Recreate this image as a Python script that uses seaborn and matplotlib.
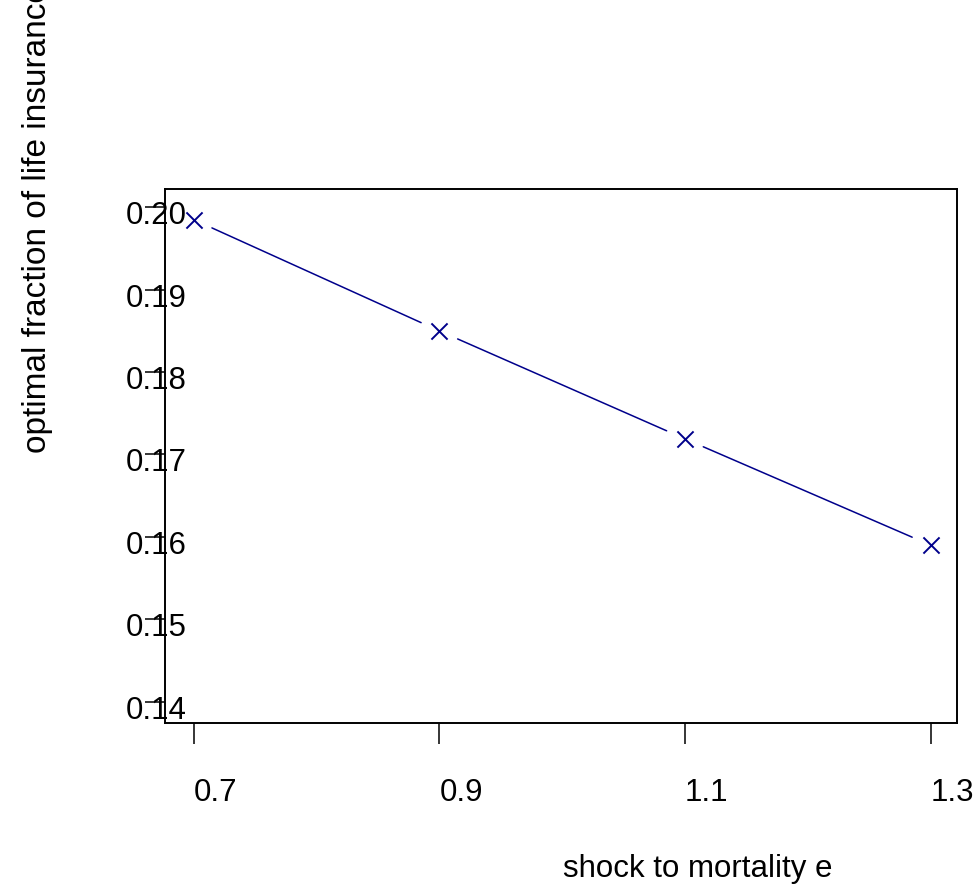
import numpy as np
import seaborn as sns
import matplotlib
matplotlib.use("Agg")
import matplotlib.pyplot as plt
import matplotlib.transforms as mtransforms

# data
shock = [0.7, 0.9, 1.1, 1.3]
fraction = [0.1985, 0.1850, 0.1719, 0.1590]
x_ticks = [0.7, 0.9, 1.1, 1.3]
x_ticklabels = ["0.7", "0.9", "1.1", "1.3"]
y_ticks = [0.14, 0.15, 0.16, 0.17, 0.18, 0.19, 0.20]
y_ticklabels = ["0.14", "0.15", "0.16", "0.17", "0.18", "0.19", "0.20"]

sns.set_style("white")
plt.rcParams["font.family"] = ["Liberation Sans", "DejaVu Sans"]
plt.rcParams["text.color"] = "black"

line_color = "#00008B"

fig = plt.figure(figsize=(9.8, 8.89), dpi=100)
ax = fig.add_axes([0.16837, 0.18706, 0.80847, 0.59978])
ax.set_xlim(0.6766, 1.3218)
ax.set_ylim(0.13745, 0.20216)

# R-style type="b": markers with gaps in the line
sns.scatterplot(x=shock, y=fraction, marker="x", s=135, color=line_color,
                linewidth=1.4, ax=ax, zorder=3)

gap = 20  # pixels on each side of a point
pts = ax.transData.transform(np.column_stack([shock, fraction]))
inv = ax.transData.inverted()
for p0, p1 in zip(pts[:-1], pts[1:]):
    d = p1 - p0
    u = d / np.hypot(*d)
    seg = inv.transform(np.array([p0 + u * gap, p1 - u * gap]))
    ax.plot(seg[:, 0], seg[:, 1], color=line_color, lw=1.1, zorder=2)

ax.set_xticks(x_ticks)
ax.set_xticklabels(x_ticklabels, ha="left")
ax.set_yticks(y_ticks)
ax.set_yticklabels(y_ticklabels)

ax.tick_params(axis="x", direction="out", length=15.1, width=1.1, pad=25,
               labelsize=22.5, colors="black", bottom=True)
ax.tick_params(axis="y", direction="out", length=14.4, width=1.1, pad=-30.2,
               labelsize=22.5, colors="black", left=True)

offset = mtransforms.ScaledTranslation(0, -5.5 / 100, fig.dpi_scale_trans)
for lab in ax.get_yticklabels():
    lab.set_transform(lab.get_transform() + offset)

for sp in ax.spines.values():
    sp.set_visible(True)
    sp.set_color("black")
    sp.set_linewidth(1.4)

fig.text(563 / 980, 1 - 877 / 889, "shock to mortality e", fontsize=22.5,
         ha="left", va="baseline", color="black")
fig.text(38 / 980, 1 - 453 / 889, "optimal fraction of life insurance",
         fontsize=24, rotation=90, ha="center", va="bottom", color="black")

fig.savefig("out.png", dpi=100, facecolor="white")
